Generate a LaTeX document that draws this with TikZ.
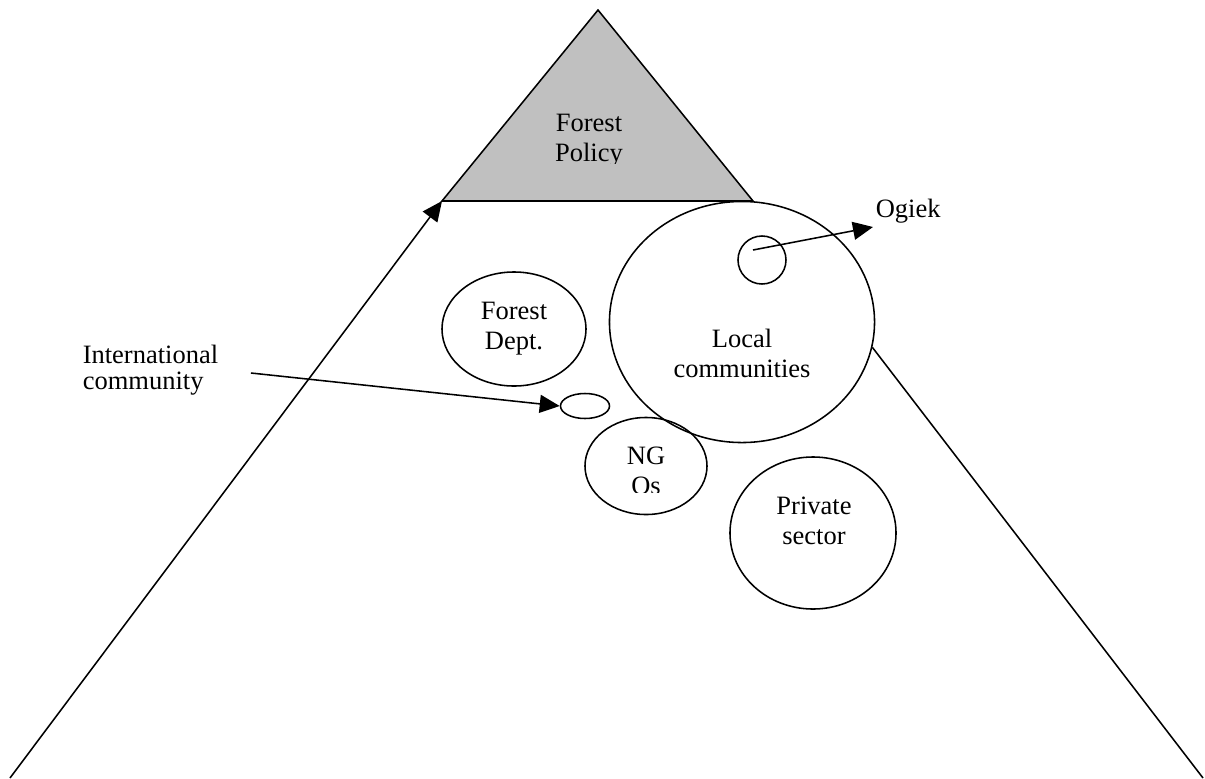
\documentclass[tikz,border=0pt]{standalone}
\usepackage{fontspec}
\setmainfont{Liberation Serif}
\usetikzlibrary{shapes.geometric,arrows.meta,positioning,calc}
\definecolor{policygray}{RGB}{192,192,192}
\begin{document}
\begin{tikzpicture}[x=0.025cm, y=-0.025cm, line width=1.1pt,
	every node/.style={font=\fontsize{18.85pt}{21.3pt}\selectfont, inner sep=0pt}]
	\tikzstyle{stakeholder} = [ellipse, draw=black, text centered]
	\tikzstyle{caption} = [align=center]
	\tikzstyle{arrowline} = [-{Triangle[length=0.5cm,width=0.45cm]}]
	\useasboundingbox (0,0) rectangle (1205,778);
	% stakeholders
	\node (local) at (742,322) [stakeholder, minimum width=6.625cm, minimum height=6.025cm] {};
	\node at ($(local.center)+(0,31)$) [caption] {Local\\communities};
	\node (ogiek) at (762,260) [stakeholder, minimum width=1.2cm, minimum height=1.2cm] {};
	\node (forestdept) at (514,329) [stakeholder, minimum width=3.6cm, minimum height=2.85cm, caption] {Forest\\Dept.};
	\node (intl) at (585,406) [stakeholder, minimum width=1.225cm, minimum height=0.625cm] {};
	\node (ngos) at (646,466) [stakeholder, minimum width=3.05cm, minimum height=2.425cm] {};
	\begin{scope}
		\clip (560,430) rectangle (730,492);
		\node at ($(ngos.center)+(0,5)$) [caption] {NG\\Os};
	\end{scope}
	\node (private) at (813,533) [stakeholder, minimum width=4.15cm, minimum height=3.8cm] {};
	\node at ($(private.center)+(1,-12)$) [caption] {Private\\sector};
	% policy triangle
	\coordinate (apex) at (598,10);
	\coordinate (baseleft) at (442,201);
	\coordinate (baseright) at (753,201);
	\filldraw[fill=policygray, draw=black] (apex) -- (baseright) -- (baseleft) -- cycle;
	\begin{scope}
		\clip (450,20) rectangle (740,163);
		\node (policy) at (589,141) [caption] {Forest\\Policy};
	\end{scope}
	% sides of the big triangle
	\coordinate (leftfoot) at (10,778);
	\coordinate (rightfoot) at (1203,778);
	\draw[arrowline] (leftfoot) -- (baseleft);
	\draw (local.-11) -- (rightfoot);
	% labels outside
	\node (ogieklabel) at (875,217) [anchor=base west] {Ogiek};
	\draw[arrowline] ($(ogiek.center)+(-9,-10)$) -- ($(ogieklabel.base west)+(-2,10)$);
	\node (intllabel) at (82,344) [anchor=north west, align=left,
		font=\fontsize{18.85pt}{18.5pt}\selectfont] {International\\community};
	\draw[arrowline] ($(intllabel.north east)+(32,29)$) -- (intl.west);
\end{tikzpicture}
\end{document}
